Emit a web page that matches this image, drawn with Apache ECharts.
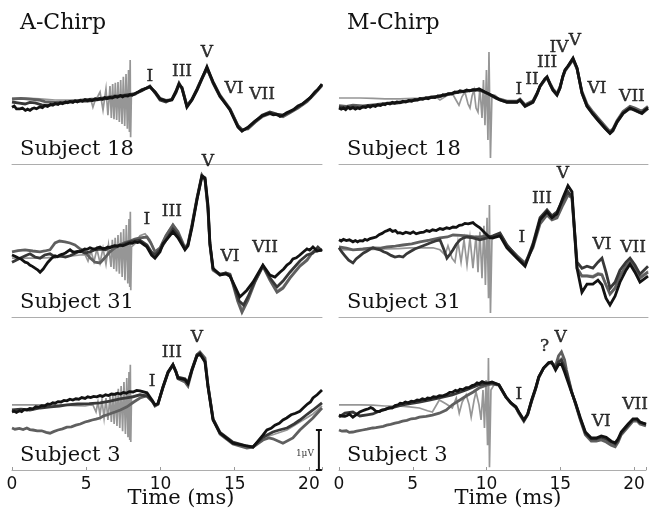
<!DOCTYPE html>
<html>
<head>
<meta charset="utf-8">
<script src="https://cdn.jsdelivr.net/npm/echarts/dist/echarts.min.js"></script>
<style>
  html, body { margin: 0; padding: 0; background: #fff; }
  #chart { width: 649px; height: 512px; }
</style>
</head>
<body>
<div id="chart"></div>
<script>
// Averaged ABR waveforms: time in ms, amplitude in microvolts (relative to each panel's baseline).
// Each panel holds three response averages plus the recording that carries the stimulus artefact.

// ---------- A-Chirp, subject 18 ----------
const aS18Stim = [[0,0.15],[0.9,0.15],[1.9,0.13],[2.9,0.1],[3.9,0.1],[4.9,0.1],[5.32,0.1],[5.45,-0.08],[5.59,0.08],[5.79,0.2],[5.93,0.3],[6.13,-0.15],[6.33,0.38],[6.46,-0.28],[6.6,0.45],[6.69,-0.35],[6.78,0.5],[6.87,-0.38],[6.96,0.53],[7.05,-0.4],[7.14,0.55],[7.23,-0.45],[7.32,0.6],[7.41,-0.5],[7.5,0.68],[7.59,-0.55],[7.68,0.75],[7.77,-0.62],[7.85,0.85],[7.91,-0.7],[7.96,1.1],[7.99,-0.83],[8.04,0.22],[8.28,0.25],[8.75,0.35],[9.29,0.44],[9.63,0.3],[9.97,0.12],[10.37,0.07],[10.77,0.1],[11.04,0.3],[11.25,0.5],[11.45,0.4],[11.78,-0.06],[12.12,0.1],[12.46,0.36],[12.79,0.64],[13.13,0.92],[13.54,0.54],[14.01,0.19],[14.68,-0.14],[15.22,-0.56],[15.49,-0.66],[15.89,-0.6],[16.36,-0.44],[16.84,-0.3],[17.37,-0.22],[17.85,-0.26],[18.25,-0.29],[18.72,-0.19],[19.26,-0.06],[19.87,0.09],[20.4,0.29],[20.88,0.49]];
const aS18Gray = [[0,0.12],[0.6,0.14],[1.21,0.12],[1.8,0.1],[2.22,0.06],[2.9,0.04],[3.57,0.05],[4.24,0.08],[4.92,0.11],[5.59,0.13],[6.3,0.16],[6.94,0.2],[7.61,0.21],[8.28,0.24],[8.75,0.36],[9.29,0.42],[9.63,0.31],[9.97,0.14],[10.37,0.09],[10.77,0.11],[11.04,0.28],[11.25,0.48],[11.45,0.42],[11.78,-0.04],[12.12,0.11],[12.46,0.34],[12.79,0.62],[13.13,0.88],[13.54,0.56],[14.01,0.22],[14.68,-0.12],[15.22,-0.54],[15.49,-0.64],[15.89,-0.62],[16.36,-0.46],[16.84,-0.32],[17.37,-0.24],[17.85,-0.27],[18.25,-0.32],[18.72,-0.22],[19.26,-0.1],[19.87,0.06],[20.4,0.26],[20.88,0.46]];
const aS18Dark = [[0,0.05],[0.5,0.02],[0.88,0],[1.2,0.04],[1.55,0.03],[2.0,-0.02],[2.56,-0.03],[3.0,0.01],[3.57,0.03],[4.0,0.06],[4.58,0.08],[5.1,0.07],[5.59,0.1],[6.1,0.12],[6.6,0.15],[7.1,0.19],[7.61,0.22],[8.28,0.26],[8.75,0.33],[9.29,0.45],[9.63,0.28],[9.97,0.1],[10.37,0.05],[10.77,0.12],[11.04,0.32],[11.25,0.52],[11.45,0.38],[11.78,-0.05],[12.12,0.12],[12.46,0.38],[12.79,0.65],[13.13,0.9],[13.54,0.52],[14.01,0.18],[14.68,-0.13],[15.22,-0.55],[15.49,-0.66],[15.89,-0.6],[16.36,-0.45],[16.84,-0.28],[17.37,-0.2],[17.85,-0.25],[18.25,-0.28],[18.72,-0.2],[19.26,-0.08],[19.87,0.08],[20.4,0.28],[20.88,0.48]];
const aS18Black = [[0,-0.08],[0.15,-0.05],[0.3,-0.12],[0.42,-0.09],[0.54,-0.12],[0.7,-0.1],[0.9,-0.16],[1.05,-0.13],[1.21,-0.16],[1.35,-0.12],[1.5,-0.1],[1.65,-0.12],[1.89,-0.07],[2.05,-0.09],[2.2,-0.04],[2.4,-0.06],[2.6,-0.01],[2.75,-0.03],[2.9,0.01],[3.1,-0.01],[3.25,0.03],[3.4,0.01],[3.6,0.05],[3.75,0.03],[3.91,0.06],[4.1,0.04],[4.25,0.08],[4.4,0.05],[4.6,0.09],[4.75,0.07],[4.92,0.11],[5.1,0.08],[5.25,0.11],[5.4,0.09],[5.6,0.13],[5.75,0.11],[5.93,0.14],[6.1,0.12],[6.25,0.16],[6.4,0.14],[6.6,0.17],[6.75,0.15],[6.94,0.19],[7.1,0.17],[7.3,0.21],[7.45,0.18],[7.61,0.21],[7.8,0.2],[7.95,0.23],[8.1,0.22],[8.28,0.26],[8.75,0.35],[9.29,0.43],[9.63,0.3],[9.97,0.13],[10.37,0.08],[10.77,0.1],[11.04,0.3],[11.25,0.5],[11.45,0.4],[11.78,-0.08],[12.12,0.1],[12.46,0.35],[12.79,0.63],[13.13,0.93],[13.54,0.55],[14.01,0.2],[14.68,-0.15],[15.22,-0.58],[15.49,-0.68],[15.89,-0.58],[16.36,-0.43],[16.84,-0.3],[17.1,-0.26],[17.37,-0.23],[17.6,-0.27],[17.85,-0.26],[18.05,-0.31],[18.25,-0.28],[18.5,-0.22],[18.72,-0.18],[19.0,-0.13],[19.26,-0.05],[19.55,0.0],[19.87,0.1],[20.1,0.16],[20.4,0.3],[20.6,0.36],[20.88,0.5]];
const aS18Waves = [['I',9.29,0.68],['III',11.45,0.8],['V',13.13,1.28],['VI',14.95,0.38],['VII',16.84,0.23]];

// ---------- M-Chirp, subject 18 ----------
const mS18Stim = [[0,0.15],[0.7,0.15],[1.41,0.15],[2.3,0.14],[3.1,0.13],[4.11,0.13],[5.45,0.15],[6.46,0.2],[6.8,0.1],[7.14,0.18],[7.61,0.28],[7.88,0.1],[8.08,-0.03],[8.28,0.18],[8.48,0.3],[8.69,0],[8.82,-0.1],[8.96,0.2],[9.09,0.35],[9.23,-0.1],[9.36,-0.2],[9.49,0.4],[9.63,-0.35],[9.73,0.6],[9.83,-0.53],[9.93,0.85],[10.03,-0.9],[10.1,1.3],[10.2,-1.35],[10.3,0.23],[10.51,0.22],[10.84,0.11],[11.31,0.06],[11.99,0.06],[12.19,0.11],[12.53,-0.03],[12.66,-0.06],[13.06,0.06],[13.33,0.26],[13.54,0.46],[13.87,0.64],[14.01,0.68],[14.21,0.52],[14.41,0.37],[14.68,0.25],[14.88,0.42],[15.08,0.7],[15.22,0.86],[15.42,0.95],[15.76,1.12],[16.03,0.9],[16.36,0.3],[16.7,-0.02],[17.1,-0.22],[17.44,-0.37],[17.91,-0.57],[18.25,-0.7],[18.45,-0.63],[18.72,-0.43],[19.13,-0.2],[19.6,-0.07],[19.93,-0.12],[20.4,-0.2],[20.81,-0.07]];
const mS18Gray = [[0,-0.04],[0.5,-0.06],[0.94,-0.03],[1.6,-0.05],[2.29,-0.02],[3.0,0.01],[3.43,0.03],[4.31,0.06],[5.0,0.1],[5.45,0.12],[6.46,0.17],[7.14,0.22],[8.15,0.3],[9.02,0.34],[9.43,0.36],[9.83,0.29],[10.37,0.19],[10.84,0.12],[11.31,0.07],[11.99,0.07],[12.19,0.12],[12.53,-0.02],[12.66,-0.05],[13.06,0.08],[13.33,0.27],[13.54,0.44],[13.87,0.6],[14.01,0.66],[14.21,0.52],[14.41,0.38],[14.68,0.26],[14.88,0.43],[15.08,0.68],[15.22,0.82],[15.42,0.93],[15.76,1.1],[16.03,0.88],[16.36,0.32],[16.7,0],[17.1,-0.2],[17.44,-0.35],[17.91,-0.55],[18.25,-0.69],[18.45,-0.62],[18.72,-0.42],[19.13,-0.19],[19.6,-0.06],[19.93,-0.1],[20.4,-0.18],[20.81,-0.06]];
const mS18Dark = [[0,-0.07],[0.4,-0.1],[0.94,-0.07],[1.41,-0.09],[2.0,-0.04],[2.6,-0.03],[3.23,0.01],[3.9,0.02],[4.5,0.06],[5.2,0.1],[5.9,0.15],[6.6,0.19],[7.3,0.24],[8.0,0.3],[8.6,0.33],[9.2,0.36],[9.6,0.33],[10.1,0.25],[10.6,0.14],[11.31,0.04],[11.99,0.04],[12.19,0.09],[12.53,-0.06],[12.66,-0.09],[13.06,0.04],[13.33,0.24],[13.54,0.44],[13.87,0.62],[14.01,0.66],[14.21,0.49],[14.41,0.34],[14.68,0.22],[14.88,0.39],[15.08,0.69],[15.22,0.84],[15.42,0.94],[15.76,1.13],[16.03,0.89],[16.36,0.27],[16.7,-0.06],[17.1,-0.26],[17.44,-0.41],[17.91,-0.61],[18.25,-0.74],[18.45,-0.67],[18.72,-0.46],[19.13,-0.24],[19.6,-0.11],[19.93,-0.16],[20.4,-0.24],[20.81,-0.11]];
const mS18Black = [[0,-0.1],[0.15,-0.13],[0.3,-0.1],[0.45,-0.14],[0.6,-0.08],[0.75,-0.12],[0.94,-0.09],[1.1,-0.13],[1.25,-0.1],[1.4,-0.12],[1.6,-0.07],[1.8,-0.09],[1.95,-0.05],[2.1,-0.08],[2.29,-0.04],[2.45,-0.06],[2.6,-0.02],[2.8,-0.04],[2.95,0.0],[3.1,-0.02],[3.25,0.02],[3.43,0.0],[3.6,0.04],[3.75,0.02],[3.9,0.05],[4.1,0.03],[4.31,0.07],[4.5,0.05],[4.7,0.09],[4.9,0.07],[5.1,0.11],[5.3,0.1],[5.45,0.14],[5.65,0.12],[5.85,0.15],[6.0,0.13],[6.2,0.17],[6.46,0.16],[6.65,0.2],[6.85,0.19],[7.0,0.23],[7.14,0.22],[7.35,0.26],[7.6,0.25],[7.8,0.3],[8.0,0.29],[8.15,0.33],[8.4,0.31],[8.6,0.35],[8.8,0.33],[9.02,0.36],[9.2,0.35],[9.43,0.38],[9.83,0.3],[10.37,0.2],[10.84,0.1],[11.31,0.05],[11.99,0.05],[12.19,0.1],[12.53,-0.05],[12.66,-0.08],[13.06,0.05],[13.33,0.25],[13.54,0.45],[13.87,0.63],[14.01,0.68],[14.21,0.5],[14.41,0.35],[14.68,0.23],[14.88,0.4],[15.08,0.7],[15.22,0.85],[15.42,0.95],[15.76,1.15],[16.03,0.9],[16.36,0.28],[16.7,-0.05],[17.1,-0.25],[17.44,-0.4],[17.91,-0.6],[18.25,-0.73],[18.45,-0.65],[18.72,-0.45],[19.13,-0.23],[19.6,-0.1],[19.93,-0.15],[20.2,-0.2],[20.4,-0.23],[20.6,-0.15],[20.81,-0.1]];
const mS18Waves = [['I',12.12,0.35],['II',13.0,0.6],['III',14.01,1.03],['IV',14.81,1.4],['V',15.89,1.58],['VI',17.37,0.38],['VII',19.73,0.18]];

// ---------- A-Chirp, subject 31 ----------
const aS31Stim = [[0,-0.03],[0.9,-0.03],[1.89,-0.03],[2.9,-0.01],[3.9,0.02],[4.58,0.05],[4.92,0.06],[5.12,-0.1],[5.32,0.15],[5.52,-0.12],[5.72,0.2],[5.93,-0.15],[6.13,0.22],[6.33,-0.18],[6.5,0.3],[6.67,-0.25],[6.76,0.43],[6.86,-0.3],[6.95,0.48],[7.04,-0.36],[7.14,0.55],[7.23,-0.42],[7.33,0.62],[7.42,-0.5],[7.52,0.7],[7.61,-0.58],[7.7,0.8],[7.8,-0.66],[7.88,0.95],[7.93,-0.75],[7.97,1.13],[8.0,-0.83],[8.05,0.25],[8.28,0.33],[8.62,0.53],[8.96,0.58],[9.29,0.43],[9.63,0.13],[9.97,0.23],[10.37,0.55],[10.84,0.82],[11.18,0.62],[11.65,0.22],[11.85,0.32],[12.12,0.78],[12.46,1.46],[12.79,2.04],[13.0,1.94],[13.2,1.2],[13.33,0.3],[13.54,-0.32],[14.01,-0.44],[14.68,-0.44],[14.88,-0.66],[15.49,-1.3],[15.89,-1.05],[16.36,-0.62],[16.9,-0.22],[17.37,-0.56],[17.85,-0.84],[18.25,-0.74],[18.72,-0.5],[19.39,-0.2],[19.87,-0.05],[20.27,0.12],[20.88,0.17]];
const aS31Gray = [[0,0.13],[0.4,0.16],[0.88,0.18],[1.4,0.15],[1.89,0.13],[2.2,0.15],[2.56,0.18],[2.9,0.35],[3.2,0.4],[3.57,0.38],[3.9,0.35],[4.24,0.3],[4.6,0.2],[4.92,0.13],[5.25,-0.02],[5.59,-0.13],[5.93,-0.15],[6.25,-0.02],[6.6,0.13],[6.9,0.22],[7.27,0.3],[7.6,0.36],[7.95,0.4],[8.28,0.45],[8.62,0.48],[9.09,0.5],[9.35,0.35],[9.63,0.13],[9.97,0.23],[10.37,0.53],[10.84,0.8],[11.18,0.63],[11.65,0.23],[11.85,0.33],[12.12,0.8],[12.46,1.48],[12.79,2.05],[13.0,1.93],[13.2,1.18],[13.33,0.3],[13.54,-0.33],[14.01,-0.45],[14.4,-0.4],[14.68,-0.43],[14.88,-0.68],[15.2,-1.1],[15.49,-1.38],[15.89,-1.08],[16.36,-0.63],[16.9,-0.23],[17.37,-0.58],[17.85,-0.88],[18.25,-0.78],[18.72,-0.53],[19.39,-0.23],[19.87,-0.08],[20.27,0.13],[20.88,0.18]];
const aS31Dark = [[0,-0.13],[0.54,-0.03],[0.9,0.03],[1.21,0.08],[1.55,0.0],[1.89,-0.03],[2.2,0.05],[2.56,0.08],[2.9,0.0],[3.23,0.03],[3.6,0.0],[3.91,0.03],[4.3,0.1],[4.58,0.15],[4.9,0.1],[5.25,0.13],[5.6,0.18],[5.93,0.2],[6.3,0.18],[6.6,0.25],[7.0,0.28],[7.27,0.28],[7.6,0.33],[7.95,0.38],[8.28,0.4],[8.62,0.42],[9.09,0.3],[9.4,0.12],[9.63,0.05],[9.97,0.18],[10.37,0.42],[10.84,0.7],[11.18,0.55],[11.65,0.2],[11.85,0.3],[12.12,0.78],[12.46,1.45],[12.79,2.0],[13.0,1.95],[13.2,1.22],[13.33,0.32],[13.54,-0.3],[14.01,-0.43],[14.4,-0.4],[14.68,-0.45],[14.88,-0.65],[15.3,-1.1],[15.6,-1.2],[15.89,-1.0],[16.36,-0.6],[16.9,-0.22],[17.37,-0.52],[17.85,-0.75],[18.25,-0.6],[18.72,-0.38],[19.39,-0.1],[19.87,0.05],[20.27,0.1],[20.6,0.25],[20.88,0.15]];
const aS31Black = [[0,0.05],[0.2,0.02],[0.4,-0.02],[0.6,-0.05],[0.88,-0.13],[1.05,-0.15],[1.2,-0.2],[1.4,-0.24],[1.55,-0.28],[1.75,-0.33],[1.89,-0.38],[2.1,-0.3],[2.25,-0.22],[2.42,-0.13],[2.55,-0.08],[2.7,-0.02],[2.9,0.03],[3.05,0.01],[3.23,0.05],[3.4,0.07],[3.6,0.1],[3.75,0.14],[3.91,0.18],[4.05,0.14],[4.2,0.12],[4.4,0.14],[4.58,0.13],[4.75,0.17],[4.9,0.2],[5.05,0.19],[5.25,0.23],[5.4,0.21],[5.6,0.2],[5.75,0.23],[5.93,0.25],[6.1,0.21],[6.3,0.22],[6.45,0.25],[6.6,0.23],[6.75,0.26],[6.9,0.28],[7.1,0.27],[7.27,0.3],[7.45,0.28],[7.6,0.3],[7.8,0.33],[7.95,0.35],[8.1,0.34],[8.28,0.38],[8.45,0.36],[8.62,0.38],[9.09,0.25],[9.4,0.05],[9.63,-0.03],[9.97,0.13],[10.17,0.33],[10.51,0.48],[10.84,0.63],[11.18,0.48],[11.65,0.18],[11.85,0.28],[12.12,0.73],[12.46,1.43],[12.79,2.03],[13.0,1.98],[13.2,1.3],[13.33,0.35],[13.54,-0.28],[14.01,-0.45],[14.4,-0.42],[14.68,-0.48],[14.88,-0.63],[15.35,-1.0],[15.82,-0.83],[16.23,-0.63],[16.9,-0.2],[17.37,-0.45],[17.71,-0.5],[18.05,-0.38],[18.3,-0.3],[18.52,-0.2],[18.75,-0.14],[18.92,-0.05],[19.15,-0.02],[19.39,0.05],[19.6,0.12],[19.87,0.2],[20.05,0.17],[20.27,0.25],[20.55,0.15],[20.88,0.18]];
const aS31Waves = [['I',9.09,0.93],['III',10.77,1.13],['V',13.2,2.38],['VI',14.68,0],['VII',17.04,0.23]];

// ---------- M-Chirp, subject 31 ----------
const mS31Stim = [[0,0.18],[0.7,0.18],[1.41,0.18],[2.3,0.19],[3.1,0.2],[4.0,0.21],[4.78,0.23],[5.5,0.23],[6.33,0.23],[6.8,0.18],[7.14,0.05],[7.34,0.28],[7.61,-0.03],[7.81,-0.13],[8.01,0.38],[8.22,-0.13],[8.42,0.43],[8.62,-0.2],[8.82,0.48],[9.02,-0.28],[9.23,0.53],[9.36,-0.38],[9.49,0.63],[9.63,-0.53],[9.76,0.78],[9.86,-0.7],[9.97,0.98],[10.07,-1.03],[10.13,1.3],[10.2,-1.4],[10.3,0.43],[10.51,0.53],[10.84,0.55],[11.31,0.27],[11.99,0.02],[12.53,-0.17],[13.06,0.25],[13.54,0.86],[14.01,1.08],[14.34,0.95],[14.68,1.0],[15.08,1.35],[15.42,1.58],[15.69,1.48],[16.03,-0.25],[16.36,-0.45],[16.7,-0.45],[17.1,-0.47],[17.44,-0.4],[17.71,-0.42],[17.98,-0.68],[18.25,-0.9],[18.59,-0.75],[18.92,-0.45],[19.33,-0.2],[19.6,-0.1],[19.93,-0.26],[20.27,-0.5],[20.81,-0.35]];
const mS31Gray = [[0,0.25],[0.5,0.22],[0.94,0.18],[1.6,0.2],[2.29,0.23],[2.8,0.22],[3.23,0.25],[3.8,0.27],[4.31,0.3],[4.9,0.33],[5.45,0.38],[6.1,0.42],[6.8,0.48],[7.3,0.5],[7.68,0.55],[8.2,0.54],[8.62,0.53],[9.1,0.5],[9.49,0.5],[9.9,0.52],[10.37,0.5],[10.84,0.58],[11.31,0.28],[11.99,0.03],[12.53,-0.15],[13.06,0.23],[13.54,0.83],[14.01,1.05],[14.34,0.93],[14.68,0.98],[15.08,1.3],[15.42,1.55],[15.69,1.48],[16.03,-0.28],[16.36,-0.48],[16.7,-0.48],[17.1,-0.5],[17.44,-0.43],[17.71,-0.45],[17.98,-0.7],[18.25,-0.93],[18.59,-0.78],[18.92,-0.48],[19.33,-0.23],[19.6,-0.13],[19.93,-0.28],[20.27,-0.53],[20.81,-0.38]];
const mS31Dark = [[0,0.23],[0.2,0.12],[0.4,0.03],[0.65,-0.08],[0.94,-0.15],[1.15,-0.05],[1.41,0.03],[1.65,0.1],[1.9,0.15],[2.1,0.2],[2.29,0.23],[2.5,0.2],[2.76,0.18],[3.0,0.13],[3.23,0.1],[3.5,0.04],[3.77,0],[4.05,0.02],[4.31,0],[4.55,0.08],[4.78,0.13],[5.1,0.2],[5.45,0.25],[5.8,0.3],[6.13,0.35],[6.5,0.4],[6.8,0.43],[7.05,0.2],[7.27,-0.03],[7.5,0.08],[7.68,0.18],[7.9,0.32],[8.15,0.43],[8.4,0.48],[8.62,0.5],[9.02,0.48],[9.49,0.43],[9.97,0.48],[10.37,0.53],[10.84,0.6],[11.31,0.3],[11.99,0],[12.53,-0.2],[13.06,0.33],[13.54,0.98],[14.01,1.18],[14.34,1.03],[14.68,1.13],[15.08,1.43],[15.42,1.63],[15.69,1.5],[16.03,-0.13],[16.36,-0.28],[16.7,-0.23],[17.1,-0.28],[17.44,-0.13],[17.71,-0.03],[17.98,-0.38],[18.25,-0.78],[18.59,-0.63],[18.92,-0.33],[19.33,-0.13],[19.6,-0.03],[19.93,-0.2],[20.27,-0.43],[20.81,-0.23]];
const mS31Black = [[0,0.43],[0.15,0.4],[0.3,0.44],[0.5,0.41],[0.7,0.43],[0.94,0.38],[1.1,0.41],[1.25,0.38],[1.41,0.41],[1.6,0.4],[1.75,0.44],[1.9,0.42],[2.1,0.46],[2.29,0.48],[2.5,0.5],[2.7,0.56],[2.9,0.59],[3.1,0.64],[3.25,0.66],[3.43,0.69],[3.6,0.64],[3.8,0.66],[3.95,0.6],[4.11,0.61],[4.3,0.58],[4.5,0.62],[4.8,0.59],[5.0,0.63],[5.2,0.58],[5.45,0.61],[5.7,0.62],[5.9,0.66],[6.1,0.64],[6.3,0.68],[6.55,0.66],[6.8,0.71],[7.0,0.69],[7.25,0.73],[7.45,0.71],[7.68,0.75],[7.9,0.74],[8.1,0.79],[8.3,0.8],[8.48,0.84],[8.7,0.83],[9.02,0.86],[9.2,0.8],[9.49,0.73],[9.83,0.6],[10.17,0.48],[10.37,0.48],[10.84,0.53],[11.31,0.23],[11.99,-0.03],[12.53,-0.23],[13.06,0.28],[13.54,0.93],[14.01,1.13],[14.34,0.98],[14.68,1.08],[15.08,1.48],[15.42,1.78],[15.69,1.63],[16.03,-0.28],[16.36,-0.88],[16.7,-0.68],[17.1,-0.68],[17.44,-0.58],[17.71,-0.7],[17.98,-1.03],[18.25,-1.2],[18.59,-0.98],[18.92,-0.63],[19.33,-0.33],[19.6,-0.18],[19.93,-0.38],[20.27,-0.63],[20.81,-0.48]];
const mS31Waves = [['I',12.32,0.48],['III',13.67,1.45],['V',15.08,2.08],['VI',17.71,0.3],['VII',19.8,0.23]];

// ---------- A-Chirp, subject 3 ----------
const aS3Stim = [[0,0.13],[0.9,0.13],[1.9,0.13],[2.56,0.13],[3.5,0.12],[4.3,0.11],[4.92,0.1],[5.2,0.12],[5.45,0.13],[5.66,-0.05],[5.79,0.2],[5.93,-0.13],[6.06,0.25],[6.2,-0.2],[6.33,0.3],[6.46,-0.25],[6.6,0.35],[6.69,-0.3],[6.79,0.4],[6.88,-0.35],[6.98,0.45],[7.07,-0.4],[7.16,0.53],[7.26,-0.45],[7.35,0.6],[7.45,-0.53],[7.54,0.7],[7.64,-0.6],[7.73,0.8],[7.81,-0.68],[7.88,0.95],[7.93,-0.75],[7.97,1.13],[8.0,-0.8],[8.05,0.35],[8.62,0.38],[9.09,0.37],[9.43,0.24],[9.63,0.12],[9.83,0.15],[10.17,0.57],[10.51,0.94],[10.84,1.12],[11.04,0.95],[11.18,0.8],[11.65,0.74],[11.85,0.63],[12.12,0.99],[12.46,1.36],[12.66,1.43],[13.0,1.25],[13.2,0.58],[13.54,-0.24],[14.01,-0.57],[14.88,-0.82],[15.82,-0.92],[16.23,-0.92],[16.9,-0.7],[17.57,-0.62],[18.52,-0.5],[19.39,-0.3],[20.27,-0.1],[20.88,0.1]];
const aS3Gray = [[0,-0.45],[0.2,-0.48],[0.5,-0.46],[0.75,-0.49],[1.0,-0.45],[1.2,-0.49],[1.41,-0.5],[1.7,-0.52],[2.0,-0.52],[2.3,-0.56],[2.56,-0.58],[2.8,-0.54],[3.1,-0.5],[3.4,-0.47],[3.7,-0.43],[4.0,-0.42],[4.3,-0.38],[4.6,-0.35],[4.92,-0.3],[5.15,-0.28],[5.4,-0.25],[5.65,-0.23],[5.93,-0.2],[6.15,-0.15],[6.4,-0.12],[6.7,-0.08],[6.94,-0.05],[7.3,0.0],[7.74,0.08],[8.2,0.2],[8.62,0.3],[9.09,0.36],[9.43,0.24],[9.63,0.1],[9.83,0.14],[10.17,0.57],[10.51,0.94],[10.84,1.14],[11.04,0.97],[11.18,0.78],[11.65,0.7],[11.85,0.6],[12.12,0.98],[12.46,1.38],[12.66,1.45],[13.0,1.3],[13.2,0.62],[13.54,-0.22],[14.01,-0.6],[14.88,-0.85],[15.82,-0.95],[16.23,-0.93],[16.9,-0.75],[17.3,-0.7],[17.57,-0.72],[18.25,-0.83],[18.92,-0.7],[19.39,-0.5],[20.27,-0.2],[20.88,0.05]];
const aS3Dark = [[0,0],[0.6,0.02],[1.2,0.0],[1.89,0.05],[2.6,0.08],[3.2,0.1],[3.7,0.13],[4.4,0.15],[5.2,0.16],[5.93,0.18],[6.6,0.22],[7.27,0.28],[8.15,0.33],[8.62,0.38],[9.09,0.35],[9.43,0.22],[9.63,0.12],[9.83,0.15],[10.17,0.56],[10.51,0.93],[10.84,1.12],[11.04,0.96],[11.18,0.82],[11.65,0.78],[11.85,0.68],[12.12,1.02],[12.46,1.38],[12.66,1.42],[13.0,1.22],[13.2,0.6],[13.54,-0.22],[14.01,-0.56],[14.88,-0.8],[15.82,-0.9],[16.23,-0.92],[16.9,-0.68],[17.57,-0.55],[18.0,-0.5],[18.52,-0.45],[19.0,-0.35],[19.39,-0.25],[19.9,-0.1],[20.27,0.0],[20.88,0.18]];
const aS3Black = [[0,-0.05],[0.15,-0.03],[0.3,-0.06],[0.5,-0.02],[0.65,-0.04],[0.8,0.01],[1.0,0.0],[1.2,0.04],[1.41,0.03],[1.6,0.08],[1.8,0.07],[2.0,0.11],[2.2,0.1],[2.4,0.15],[2.56,0.14],[2.75,0.18],[2.9,0.17],[3.1,0.21],[3.3,0.2],[3.5,0.24],[3.7,0.23],[3.9,0.27],[4.1,0.25],[4.3,0.28],[4.5,0.27],[4.7,0.31],[4.92,0.29],[5.1,0.33],[5.3,0.31],[5.5,0.34],[5.7,0.33],[5.93,0.36],[6.1,0.34],[6.3,0.38],[6.5,0.36],[6.7,0.4],[6.94,0.39],[7.1,0.42],[7.3,0.4],[7.5,0.44],[7.7,0.42],[7.9,0.46],[8.15,0.45],[8.4,0.49],[8.62,0.48],[9.09,0.43],[9.43,0.25],[9.63,0.13],[9.83,0.16],[10.17,0.58],[10.51,0.95],[10.84,1.13],[11.04,0.95],[11.18,0.8],[11.65,0.76],[11.85,0.66],[12.12,1.0],[12.46,1.35],[12.66,1.4],[13.0,1.2],[13.2,0.58],[13.54,-0.25],[14.01,-0.58],[14.88,-0.83],[15.82,-0.9],[16.23,-0.93],[16.9,-0.63],[17.17,-0.5],[17.45,-0.46],[17.71,-0.38],[18.0,-0.33],[18.25,-0.25],[18.5,-0.2],[18.8,-0.12],[19.1,-0.08],[19.39,-0.03],[19.65,0.06],[19.9,0.15],[20.1,0.2],[20.27,0.3],[20.55,0.38],[20.88,0.5]];
const aS3Waves = [['I',9.43,0.7],['III',10.77,1.43],['V',12.46,1.8]];
// 1 µV calibration bar, drawn in the lower A-Chirp panel
const scaleBar = [[20.47,-0.5],[20.87,-0.5],[20.67,-0.5],[20.67,-1.5],[20.47,-1.5],[20.87,-1.5]];
const scaleBarLabel = ['1μV',19.73,-1.08];

// ---------- M-Chirp, subject 3 ----------
const mS3Stim = [[0,0.13],[0.7,0.13],[1.41,0.13],[2.3,0.12],[3.1,0.1],[4.0,0.1],[4.78,0.08],[5.45,0.05],[6.0,-0.02],[6.33,-0.05],[6.8,0.25],[7.27,0.15],[7.68,0.05],[7.95,0.3],[8.15,-0.08],[8.35,0.2],[8.62,0.38],[8.82,0.13],[8.96,-0.18],[9.16,0.25],[9.29,0.45],[9.49,0.13],[9.63,-0.25],[9.76,0.5],[9.86,-0.45],[9.97,0.75],[10.07,-0.88],[10.13,1.3],[10.2,-1.43],[10.3,0.5],[10.51,0.63],[10.84,0.62],[11.31,0.32],[11.65,0.17],[11.99,0.06],[12.19,-0.07],[12.53,-0.27],[12.79,-0.11],[13.06,0.23],[13.33,0.53],[13.54,0.81],[13.87,1.05],[14.21,1.17],[14.41,1.19],[14.68,1.05],[14.88,1.25],[15.08,1.3],[15.29,1.1],[15.42,0.95],[15.76,0.46],[16.03,0.16],[16.36,-0.23],[16.7,-0.6],[17.1,-0.75],[17.44,-0.75],[17.78,-0.72],[18.11,-0.76],[18.45,-0.85],[18.72,-0.9],[18.92,-0.78],[19.13,-0.6],[19.6,-0.4],[19.93,-0.26],[20.2,-0.25],[20.4,-0.33],[20.81,-0.38]];
const mS3Gray = [[0,-0.5],[0.2,-0.53],[0.5,-0.52],[0.7,-0.56],[0.94,-0.55],[1.2,-0.53],[1.6,-0.5],[1.9,-0.48],[2.29,-0.45],[2.5,-0.44],[2.8,-0.42],[3.0,-0.41],[3.23,-0.38],[3.5,-0.36],[3.8,-0.33],[4.05,-0.31],[4.31,-0.28],[4.6,-0.26],[4.9,-0.22],[5.2,-0.21],[5.45,-0.18],[5.9,-0.16],[6.33,-0.13],[6.8,-0.08],[7.27,0.0],[7.68,0.13],[8.2,0.25],[8.62,0.35],[9.1,0.45],[9.49,0.55],[10.0,0.62],[10.37,0.65],[10.84,0.62],[11.31,0.32],[11.65,0.17],[11.99,0.06],[12.19,-0.08],[12.53,-0.28],[12.79,-0.12],[13.06,0.22],[13.33,0.52],[13.54,0.8],[13.87,1.05],[14.21,1.17],[14.41,1.18],[14.68,1.1],[14.88,1.35],[15.08,1.45],[15.29,1.25],[15.42,1.0],[15.76,0.48],[16.03,0.15],[16.36,-0.25],[16.7,-0.62],[17.1,-0.78],[17.44,-0.78],[17.78,-0.75],[18.11,-0.8],[18.45,-0.88],[18.72,-0.92],[18.92,-0.8],[19.13,-0.62],[19.6,-0.42],[19.93,-0.28],[20.2,-0.27],[20.4,-0.35],[20.81,-0.4]];
const mS3Dark = [[0,-0.18],[0.4,-0.08],[0.94,-0.05],[1.41,-0.15],[1.9,-0.12],[2.29,-0.1],[2.8,-0.02],[3.23,0.03],[3.8,0.08],[4.31,0.13],[5.45,0.2],[6.2,0.25],[6.8,0.3],[7.68,0.38],[8.62,0.5],[9.49,0.63],[10.37,0.68],[10.84,0.63],[11.31,0.33],[11.65,0.18],[11.99,0.07],[12.19,-0.06],[12.53,-0.26],[12.79,-0.11],[13.06,0.24],[13.33,0.54],[13.54,0.82],[13.87,1.05],[14.21,1.18],[14.41,1.19],[14.68,1.04],[14.88,1.2],[15.08,1.25],[15.29,1.05],[15.42,0.93],[15.76,0.46],[16.03,0.17],[16.36,-0.22],[16.7,-0.58],[17.1,-0.72],[17.44,-0.72],[17.78,-0.68],[18.11,-0.72],[18.45,-0.8],[18.72,-0.85],[18.92,-0.75],[19.13,-0.58],[19.6,-0.37],[19.93,-0.24],[20.2,-0.23],[20.4,-0.31],[20.81,-0.36]];
const mS3Black = [[0,-0.13],[0.1,-0.17],[0.2,-0.15],[0.3,-0.19],[0.4,-0.16],[0.55,-0.14],[0.7,-0.1],[0.82,-0.15],[0.94,-0.18],[1.07,-0.13],[1.2,-0.11],[1.3,-0.07],[1.41,-0.05],[1.6,-0.02],[1.8,0.01],[2.0,0.03],[2.15,0.06],[2.29,0.04],[2.4,0.0],[2.5,-0.03],[2.63,-0.01],[2.76,-0.04],[2.9,0.0],[3.0,0.03],[3.1,0.01],[3.23,0.02],[3.4,0.06],[3.6,0.05],[3.8,0.11],[4.0,0.13],[4.15,0.17],[4.31,0.16],[4.5,0.2],[4.7,0.18],[4.9,0.22],[5.1,0.21],[5.3,0.25],[5.45,0.24],[5.65,0.28],[5.85,0.26],[6.0,0.3],[6.2,0.29],[6.4,0.33],[6.6,0.32],[6.8,0.36],[7.0,0.35],[7.1,0.4],[7.3,0.39],[7.5,0.44],[7.68,0.44],[7.9,0.49],[8.05,0.47],[8.2,0.52],[8.4,0.51],[8.62,0.56],[8.8,0.56],[9.02,0.61],[9.2,0.63],[9.36,0.68],[9.5,0.66],[9.7,0.71],[9.9,0.68],[10.17,0.68],[10.37,0.7],[10.84,0.63],[11.31,0.33],[11.65,0.18],[11.99,0.08],[12.19,-0.05],[12.53,-0.25],[12.79,-0.1],[13.06,0.25],[13.33,0.55],[13.54,0.83],[13.87,1.05],[14.21,1.18],[14.41,1.2],[14.68,1.0],[14.88,1.13],[15.08,1.15],[15.29,0.95],[15.42,0.9],[15.76,0.45],[16.03,0.18],[16.36,-0.2],[16.7,-0.55],[17.1,-0.7],[17.44,-0.7],[17.78,-0.65],[18.11,-0.68],[18.45,-0.78],[18.72,-0.82],[18.92,-0.72],[19.13,-0.55],[19.6,-0.35],[19.93,-0.22],[20.2,-0.22],[20.4,-0.3],[20.81,-0.35]];
const mS3Waves = [['I',12.19,0.38],['?',13.94,1.58],['V',15.02,1.8],['VI',17.78,-0.3],['VII',20.07,0.13]];

// Panel titles and axis text
const columnTitles = ['A-Chirp', 'M-Chirp'];
const subjectNames = ['Subject 18', 'Subject 31', 'Subject 3'];
const timeTicks = [0, 5, 10, 15, 20];
const axisTitle = 'Time (ms)';

// ---------- layout ----------
const colLeft = [12, 339];
const colWidth = [310, 309];
const colMax = [20.88, 20.81];
const rowTop = [12, 165, 318];
const rowHeight = 152;
const yMin = -1.5, yMax = 2.3;

const serif = 'DejaVu Serif';
const sans = 'DejaVu Sans';
const traceStyle = {
  stim:  { color: '#969696', width: 1.7 },
  gray:  { color: '#5f5f5f', width: 2.8 },
  dark:  { color: '#383838', width: 2.8 },
  black: { color: '#121212', width: 2.8 }
};
const clear = 'rgba(0,0,0,0)';

const panels = [
  { col: 0, row: 0, traces: { stim: aS18Stim, gray: aS18Gray, dark: aS18Dark, black: aS18Black }, waves: aS18Waves },
  { col: 1, row: 0, traces: { stim: mS18Stim, gray: mS18Gray, dark: mS18Dark, black: mS18Black }, waves: mS18Waves },
  { col: 0, row: 1, traces: { stim: aS31Stim, gray: aS31Gray, dark: aS31Dark, black: aS31Black }, waves: aS31Waves },
  { col: 1, row: 1, traces: { stim: mS31Stim, gray: mS31Gray, dark: mS31Dark, black: mS31Black }, waves: mS31Waves },
  { col: 0, row: 2, traces: { stim: aS3Stim, gray: aS3Gray, dark: aS3Dark, black: aS3Black }, waves: aS3Waves },
  { col: 1, row: 2, traces: { stim: mS3Stim, gray: mS3Gray, dark: mS3Dark, black: mS3Black }, waves: mS3Waves }
];

const grid = [], xAxis = [], yAxis = [], series = [];

panels.forEach((p, i) => {
  const bottomRow = p.row === 2;
  grid.push({ left: colLeft[p.col], top: rowTop[p.row], width: colWidth[p.col], height: rowHeight });
  xAxis.push({
    gridIndex: i, type: 'value', min: 0, max: colMax[p.col], interval: 5, position: 'bottom',
    axisLine: { show: true, onZero: false, lineStyle: { color: '#adadad', width: 1 } },
    axisTick: { show: bottomRow, inside: true, length: 3, lineStyle: { color: '#9a9a9a' } },
    axisLabel: {
      show: bottomRow, margin: 6, fontFamily: sans, fontSize: 17, color: '#111',
      formatter: v => (timeTicks.indexOf(v) >= 0 ? String(v) : '')
    },
    splitLine: { show: false }
  });
  yAxis.push({ gridIndex: i, type: 'value', min: yMin, max: yMax, show: false });

  ['stim', 'gray', 'dark', 'black'].forEach(k => {
    series.push({
      type: 'line', xAxisIndex: i, yAxisIndex: i, data: p.traces[k],
      showSymbol: false, symbol: 'none', clip: false, silent: true,
      lineStyle: { color: traceStyle[k].color, width: traceStyle[k].width, join: 'miter' }
    });
  });

  // wave labels (I, III, V ...) placed at their latency / amplitude
  series.push({
    type: 'scatter', xAxisIndex: i, yAxisIndex: i, clip: false, silent: true,
    symbolSize: 1, itemStyle: { color: clear },
    data: p.waves.map(w => ({ name: w[0], value: [w[1], w[2]] })),
    label: {
      show: true, position: 'inside', formatter: '{b}', color: '#000',
      fontFamily: serif, fontSize: 17, textBorderColor: '#000', textBorderWidth: 0.4
    },
    labelLayout: { hideOverlap: false },
    z: 5
  });
});

// calibration bar in the lower A-Chirp panel
series.push({
  type: 'line', xAxisIndex: 4, yAxisIndex: 4, data: scaleBar, clip: false, silent: true,
  showSymbol: false, symbol: 'none', lineStyle: { color: '#111', width: 2 }
});
series.push({
  type: 'scatter', xAxisIndex: 4, yAxisIndex: 4, clip: false, silent: true,
  symbolSize: 1, itemStyle: { color: clear },
  data: [{ name: scaleBarLabel[0], value: [scaleBarLabel[1], scaleBarLabel[2]] }],
  label: { show: true, position: 'inside', formatter: '{b}', color: '#000', fontFamily: serif, fontSize: 9 }
});

const graphic = [];
columnTitles.forEach((t, c) => {
  graphic.push({ type: 'text', left: colLeft[c] + 8, top: 12,
    style: { text: t, font: '22px "' + serif + '"', fill: '#111' } });
});
subjectNames.forEach((s, r) => {
  [0, 1].forEach(c => {
    graphic.push({ type: 'text', left: colLeft[c] + 8, top: rowTop[r] + rowHeight - 25,
      style: { text: s, font: '21px "' + serif + '"', fill: '#111' } });
  });
});
[0, 1].forEach(c => {
  graphic.push({ type: 'text', x: colLeft[c] + 169, y: 499,
    style: { text: axisTitle, font: '21px "' + serif + '"', fill: '#111', align: 'center', verticalAlign: 'middle' } });
});

const chart = echarts.init(document.getElementById('chart'), null, { renderer: 'canvas' });
chart.setOption({
  animation: false,
  backgroundColor: '#fff',
  grid, xAxis, yAxis, series, graphic
});
</script>
</body>
</html>
